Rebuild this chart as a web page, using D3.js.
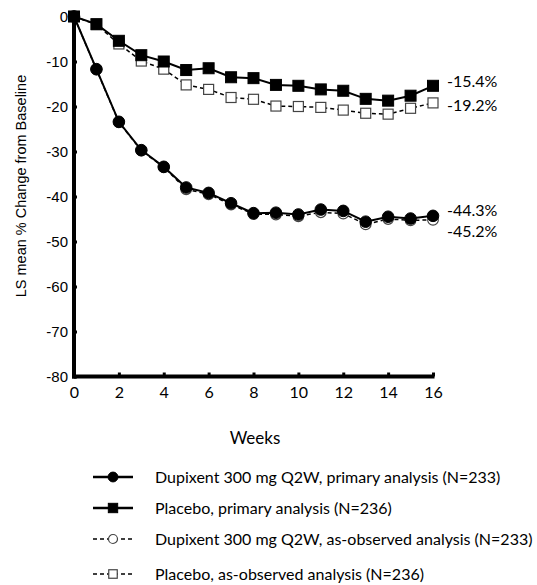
<!DOCTYPE html>
<html>
<head>
<meta charset="utf-8">
<script src="https://cdn.jsdelivr.net/npm/d3@7"></script>
<style>
  body { margin: 0; background: #fff; }
  svg { display: block; }
</style>
</head>
<body>
<svg id="chart" width="537" height="585"></svg>
<script>
// weeks on the x axis
const weeks = [0, 1, 2, 3, 4, 5, 6, 7, 8, 9, 10, 11, 12, 13, 14, 15, 16];

// LS mean % change from baseline
const dupiPrimary = [0, -11.7, -23.4, -29.7, -33.4, -38.0, -39.2, -41.5, -43.7, -43.6, -44.0, -42.9, -43.2, -45.6, -44.5, -44.9, -44.3];
const placeboPrimary = [0, -1.7, -5.4, -8.6, -10.0, -11.9, -11.5, -13.5, -13.7, -15.2, -15.4, -16.2, -16.5, -18.3, -18.7, -17.6, -15.4];
const dupiObserved = [0, -11.8, -23.5, -29.8, -33.5, -38.4, -39.5, -41.8, -43.9, -44.0, -44.4, -43.5, -43.8, -46.2, -45.0, -45.3, -45.2];
const placeboObserved = [0, -1.8, -6.1, -9.9, -11.7, -15.2, -16.2, -18.0, -18.4, -19.9, -20.0, -20.2, -20.8, -21.5, -21.7, -20.4, -19.2];

const xTicks = [0, 2, 4, 6, 8, 10, 12, 14, 16];
const yTicks = [0, -10, -20, -30, -40, -50, -60, -70, -80];

const endLabels = ["-15.4%", "-19.2%", "-44.3%", "-45.2%"];
const legendLabels = [
  "Dupixent 300 mg Q2W, primary analysis (N=233)",
  "Placebo, primary analysis (N=236)",
  "Dupixent 300 mg Q2W, as-observed analysis (N=233)",
  "Placebo, as-observed analysis (N=236)"
];

const svg = d3.select("#chart");

const x = d3.scaleLinear().domain([0, 16]).range([74, 433]);
const y = d3.scaleLinear().domain([-80, 0]).range([376.5, 16.5]);

const tickFont = "'Liberation Sans', Arial, sans-serif";
const textFont = "Lato, 'Open Sans', sans-serif";

// axes
const xAxis = svg.append("g")
  .attr("transform", "translate(0," + y(-80) + ")")
  .call(d3.axisBottom(x).tickValues(xTicks).tickSize(-4).tickPadding(10).tickSizeOuter(0));
xAxis.select(".domain").attr("stroke-width", 4).attr("d", "M" + (x(0) - 2) + ",0H" + (x(16) + 1.5));
xAxis.selectAll(".tick line").attr("stroke-width", 3);
xAxis.selectAll("text").attr("font-family", textFont).attr("font-size", 16).attr("fill", "#000");

const yAxis = svg.append("g")
  .attr("transform", "translate(" + x(0) + ",0)")
  .call(d3.axisLeft(y).tickValues(yTicks).tickFormat(d => String(d)).tickSize(-3).tickPadding(6).tickSizeOuter(0));
yAxis.select(".domain").attr("stroke-width", 4).attr("d", "M0," + (y(0) - 1) + "V" + (y(-80) + 2));
yAxis.selectAll(".tick line").attr("stroke-width", 3);
yAxis.selectAll("text").attr("font-family", tickFont).attr("font-size", 15).attr("fill", "#000");

// axis titles
svg.append("text")
  .attr("transform", "translate(26," + 186 + ") rotate(-90)")
  .attr("text-anchor", "middle")
  .attr("font-family", tickFont)
  .attr("font-size", 14.5)
  .text("LS mean % Change from Baseline");

svg.append("text")
  .attr("x", 255).attr("y", 444)
  .attr("text-anchor", "middle")
  .attr("font-family", textFont)
  .attr("font-size", 17)
  .text("Weeks");

const line = d3.line()
  .x((d, i) => x(weeks[i]))
  .y(d => y(d));

// series: as-observed drawn first so the filled markers sit on top
const series = [
  { values: placeboObserved, shape: "square", filled: false, dash: "4,3" },
  { values: dupiObserved, shape: "circle", filled: false, dash: "4,3" },
  { values: placeboPrimary, shape: "square", filled: true, dash: null },
  { values: dupiPrimary, shape: "circle", filled: true, dash: null }
];

function drawMarker(g, shape, filled, cx, cy, k) {
  k = k || 1;
  if (shape === "circle") {
    g.append("circle")
      .attr("cx", cx).attr("cy", cy).attr("r", (filled ? 5.8 : 5.3) * k)
      .attr("fill", filled ? "#000" : "#fff")
      .attr("stroke", filled ? "#000" : "#444")
      .attr("stroke-width", filled ? 1 : 1.2);
  } else {
    const s = (filled ? 11 : 10) * k;
    g.append("rect")
      .attr("x", cx - s / 2).attr("y", cy - s / 2)
      .attr("width", s).attr("height", s)
      .attr("fill", filled ? "#000" : "#fff")
      .attr("stroke", filled ? "#000" : "#444")
      .attr("stroke-width", filled ? 1 : 1.2);
  }
}

series.forEach(s => {
  const g = svg.append("g");
  g.append("path")
    .datum(s.values)
    .attr("fill", "none")
    .attr("stroke", "#000")
    .attr("stroke-width", s.filled ? 2 : 1.5)
    .attr("stroke-dasharray", s.dash)
    .attr("d", line);
  s.values.forEach((v, i) => drawMarker(g, s.shape, s.filled, x(weeks[i]), y(v)));
});

// end-of-line value labels, nudged apart like the original
const labelNudge = [-4, 2, -5, 11];
const lastValues = [placeboPrimary[16], placeboObserved[16], dupiPrimary[16], dupiObserved[16]];
endLabels.forEach((t, i) => {
  svg.append("text")
    .attr("x", 447).attr("y", y(lastValues[i]) + labelNudge[i])
    .attr("dy", "0.35em")
    .attr("font-family", textFont)
    .attr("font-size", 16)
    .text(t);
});

// legend
const legendY = [477, 508, 539, 574];
legendLabels.forEach((t, i) => {
  const g = svg.append("g").attr("transform", "translate(0," + legendY[i] + ")");
  const filled = i < 2;
  g.append("line")
    .attr("x1", 93).attr("x2", 133)
    .attr("stroke", "#000")
    .attr("stroke-width", filled ? 2.5 : 1.5)
    .attr("stroke-dasharray", filled ? null : "4,3");
  drawMarker(g, i % 2 === 0 ? "circle" : "square", filled, 113, 0, 0.85);
  g.append("text")
    .attr("x", 155).attr("dy", "0.35em")
    .attr("font-family", textFont)
    .attr("font-size", 16)
    .text(t);
});
</script>
</body>
</html>
